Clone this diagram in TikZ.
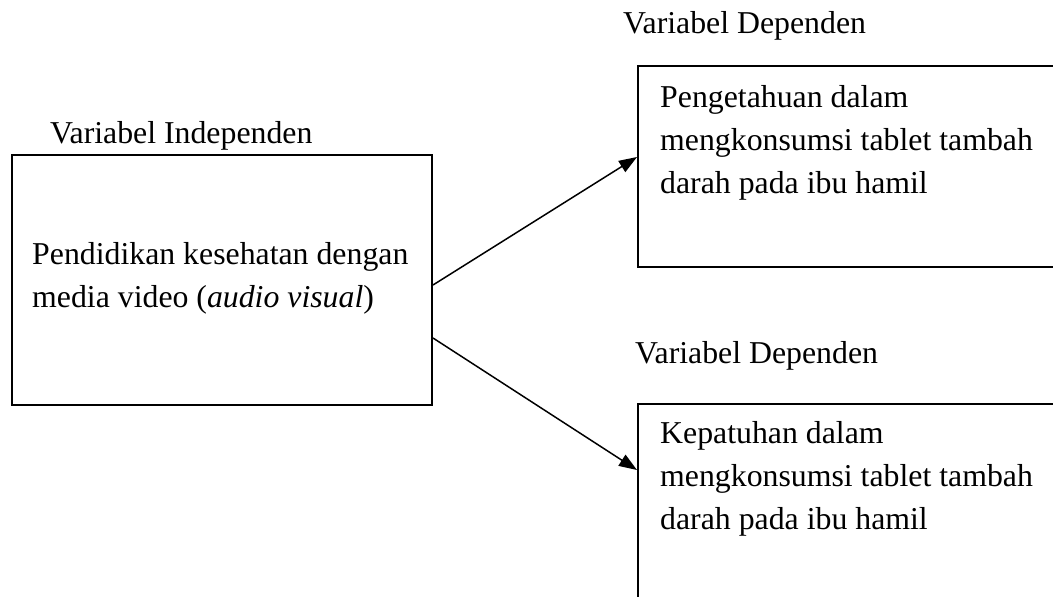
\documentclass[tikz,border=0pt]{standalone}
\usepackage{fontspec}
\setmainfont{Liberation Serif}
\usetikzlibrary{arrows.meta}
\tikzset{
  box/.style={draw, line width=2pt, rectangle, inner sep=0pt},
  txt/.style={inner sep=0pt, align=left, font=\fontsize{31.8}{43}\selectfont},
  arr/.style={line width=1.5pt, -{Triangle[length=18pt,width=13pt]}}
}
\begin{document}
\begin{tikzpicture}[x=1pt,y=-1pt]
\useasboundingbox (0,0) rectangle (1053,597);
\clip (0,0) rectangle (1053,597);
\fill[white] (0,0) rectangle (1053,597);
% boxes
\node[box, minimum width=420pt, minimum height=250pt] (indep) at (222,280) {};
\node[box, minimum width=432pt, minimum height=201pt] (dep1) at (854,166.5) {};
\node[box, minimum width=432pt, minimum height=236pt] (dep2) at (854,522) {};
% labels
\node[txt, anchor=base west] (lindep) at (50,143) {Variabel Independen};
\node[txt, anchor=base west] (ldep1) at (623,33) {Variabel Dependen};
\node[txt, anchor=base west] (ldep2) at (635,363) {Variabel Dependen};
% box texts (anchor at baseline of last line)
\node[txt, anchor=base west] (tindep) at (32,307) {Pendidikan kesehatan dengan\\media video (\textit{audio visual})};
\node[txt, anchor=base west] (tdep1) at (660,193) {Pengetahuan dalam\\mengkonsumsi tablet tambah\\darah pada ibu hamil};
\node[txt, anchor=base west] (tdep2) at (660,529) {Kepatuhan dalam\\mengkonsumsi tablet tambah\\darah pada ibu hamil};
% arrows
\draw[arr] ([yshift=-5pt]indep.east) -- ([yshift=9.5pt]dep1.west);
\draw[arr] ([yshift=-58pt]indep.east) -- ([yshift=52pt]dep2.west);
\end{tikzpicture}
\end{document}
